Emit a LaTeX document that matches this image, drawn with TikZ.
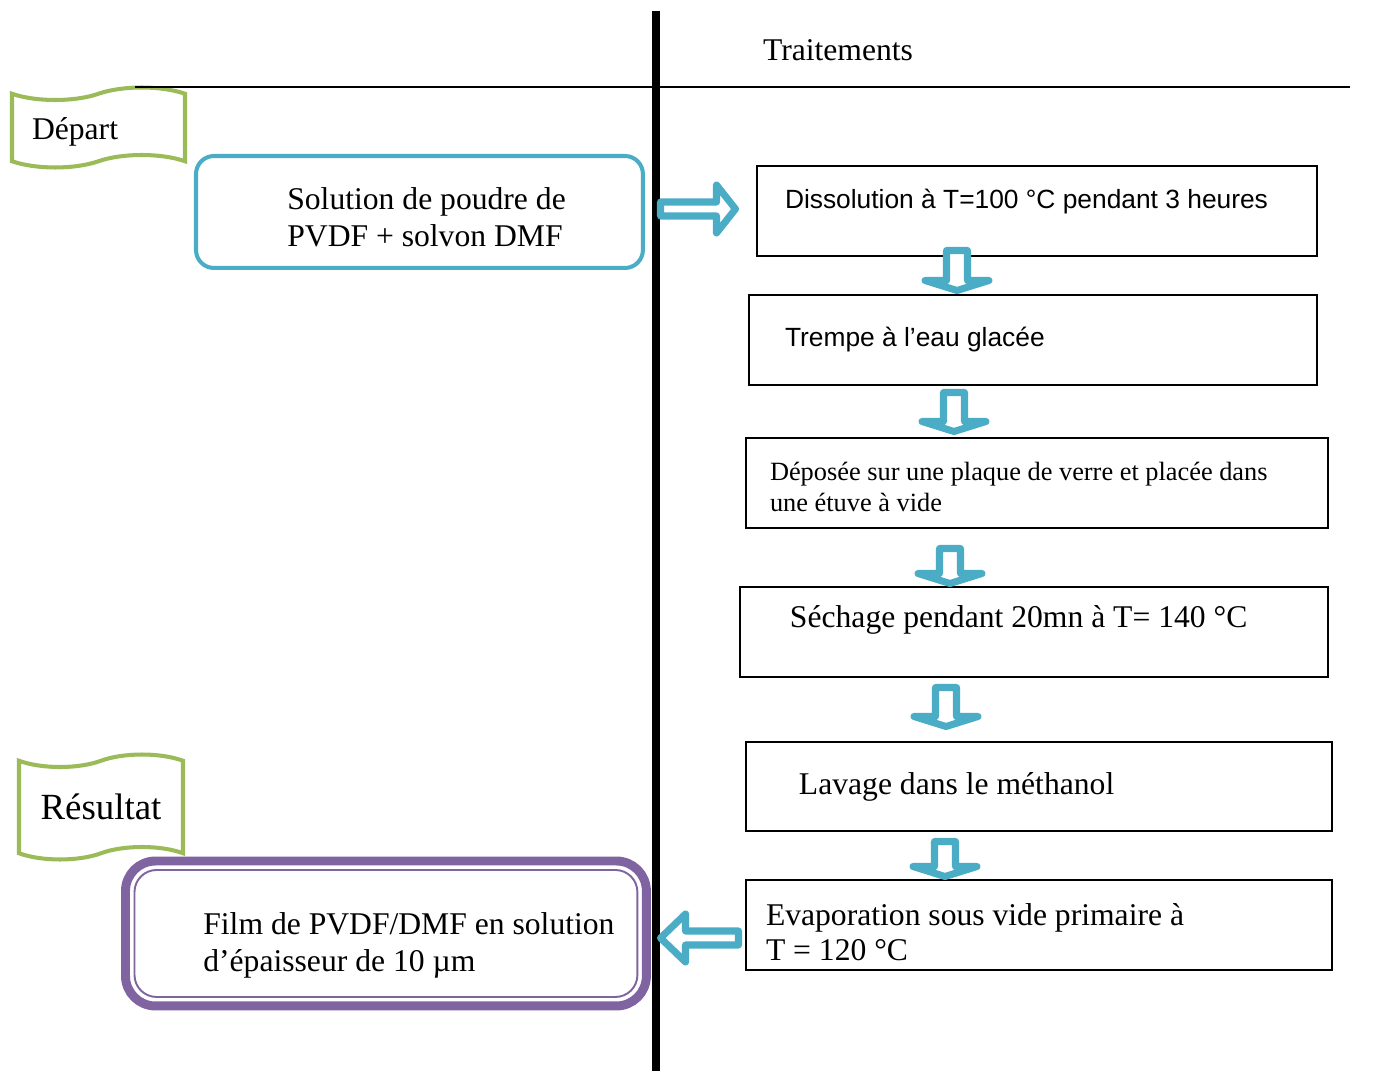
\documentclass[tikz,border=0pt]{standalone}
\usepackage{fontspec}
\setmainfont{Liberation Serif}
\newfontfamily\arialfont{Liberation Sans}
\usepackage{tikz}
\usetikzlibrary{positioning,calc,shapes.symbols}
\definecolor{wordgreen}{HTML}{9BBB59}
\definecolor{wordblue}{HTML}{4BACC6}
\definecolor{wordpurple}{HTML}{8064A2}

% hollow block arrows: tail, tip (and signed head length for the side ones)
\newcommand{\hollowdown}[2]{%
  \draw[hollow] ($(#1)+(-10.5,0)$) -- ($(#1)+(10.5,0)$) -- ($(#2)+(10.5,-10)$) -- ($(#2)+(32,-10)$)
    -- (#2) -- ($(#2)+(-32,-10)$) -- ($(#2)+(-10.5,-10)$) -- cycle;}
\newcommand{\hollowside}[3]{%
  \draw[hollow] ($(#1)+(0,-7)$) -- ($(#2)+(#3,-7)$) -- ($(#2)+(#3,-24)$) -- (#2)
    -- ($(#2)+(#3,24)$) -- ($(#2)+(#3,7)$) -- ($(#1)+(0,7)$) -- cycle;}

\begin{document}
\begin{tikzpicture}[
    x=0.02cm, y=-0.02cm,
    stepbox/.style={draw, line width=1.3pt, rectangle, anchor=north west, outer sep=0pt,
      minimum height=1.8cm, align=flush left, font=\fontsize{18}{21}\selectfont},
    arialbox/.style={stepbox, font=\arialfont\fontsize{15}{18}\selectfont},
    banner/.style={tape, draw=wordgreen, line width=2.3pt, fill=white, tape bend height=0.25cm},
    hollow/.style={draw=wordblue, line width=4pt, fill=white, line join=round},
    bodytext/.style={align=left, inner sep=0pt, font=\fontsize{18}{21}\selectfont}
]
\useasboundingbox (0,0) rectangle (1390,1071);

% Frame
\draw[line width=4pt] (656,11) -- (656,1071);
\node[font=\fontsize{18}{21}\selectfont] (trait) at (838,50) {Traitements};

% Start
\node[banner, minimum width=3.46cm, minimum height=1.6cm, inner xsep=0.4cm, text width=2.66cm,
  align=flush left, text height=18pt, font=\fontsize{18}{21}\selectfont] (dep) at (98.5,127.5) {Départ};
\draw[line width=1.4pt] (135,87) -- (1350,87);
\node[draw=wordblue, line width=2.3pt, rounded corners=0.36cm, anchor=north west, outer sep=0pt,
  minimum width=8.94cm, minimum height=2.24cm] (sol) at (196,156) {};
\node[bodytext, right=1.82cm of sol.west, yshift=-0.11cm] (soltxt) {Solution de poudre de\\PVDF + solvon DMF};

% Treatments
\node[arialbox, inner xsep=0.56cm, text width=10.08cm, text depth=14pt] (d1) at (757,166) {Dissolution à T=100 °C pendant 3 heures};
\node[arialbox, inner xsep=0.72cm, text width=9.92cm] (d2) at (749,295) {Trempe à l’eau glacée};
\node[stepbox, font=\fontsize{15}{17.6}\selectfont, inner xsep=0.48cm, text width=10.68cm, text height=15pt] (d3) at (746,438) {Déposée sur une plaque de verre et placée dans\\une étuve à vide};
\node[stepbox, inner xsep=1cm, text width=9.76cm, text depth=18pt] (d4) at (740,587) {Séchage pendant 20mn à T= 140 °C};
\node[stepbox, inner xsep=1.06cm, text width=9.6cm, minimum height=1.78cm] (d5) at (746,742) {Lavage dans le méthanol};
\node[stepbox, font=\fontsize{18}{20}\selectfont, inner xsep=0.4cm, text width=10.92cm, text height=21pt] (d6) at (746,880) {Evaporation sous vide primaire à\\T = 120 °C};

% Result
\node[banner, minimum width=3.28cm, minimum height=2.1cm, font=\fontsize{21}{25}\selectfont] (res) at (101,807) {Résultat};
\node[draw=wordpurple, line width=5.1pt, rounded corners=0.6cm, anchor=north west, outer sep=0pt,
  minimum width=10.42cm, minimum height=2.9cm] (film) at (125.5,861) {};
\draw[wordpurple, line width=1.1pt, rounded corners=0.44cm] ($(film.north west)+(9,9)$) rectangle ($(film.south east)+(-9,-9)$);
\node[bodytext, right=1.55cm of film.west, yshift=-0.24cm] (filmtxt) {Film de PVDF/DMF en solution\\d’épaisseur de 10 µm};

% Arrows
\coordinate (a0t) at (660.5,209);
\coordinate (a0h) at (735.5,209);
\coordinate (a1t) at (957,250.5);
\coordinate (a1h) at (957,290.5);
\coordinate (a2t) at (954,392.5);
\coordinate (a2h) at (954,431.5);
\coordinate (a3t) at (950,548.5);
\coordinate (a3h) at (950,583.5);
\coordinate (a4t) at (946,687.5);
\coordinate (a4h) at (946,726.5);
\coordinate (a5t) at (945,841.5);
\coordinate (a5h) at (945,876.5);
\coordinate (a6t) at (738.5,938);
\coordinate (a6h) at (660.5,938);
\hollowside{a0t}{a0h}{-19}
\hollowdown{a1t}{a1h}
\hollowdown{a2t}{a2h}
\hollowdown{a3t}{a3h}
\hollowdown{a4t}{a4h}
\hollowdown{a5t}{a5h}
\hollowside{a6t}{a6h}{25}
\end{tikzpicture}
\end{document}
